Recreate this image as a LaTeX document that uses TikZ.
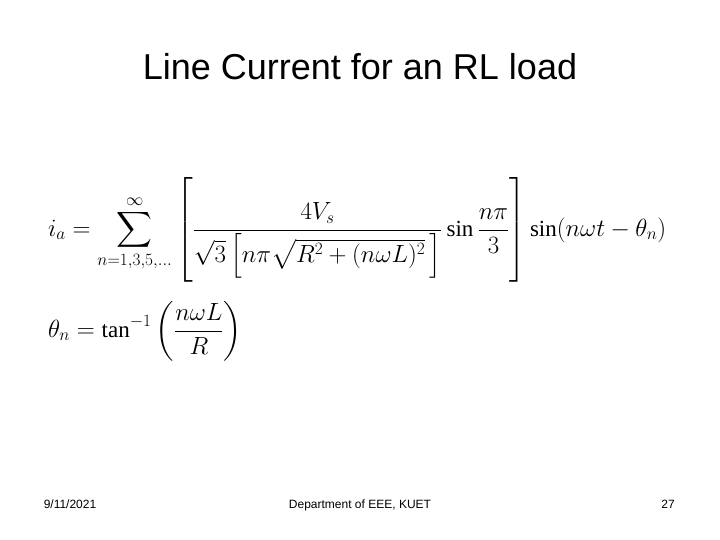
\documentclass[tikz,border=0pt]{standalone}
\usepackage{amsmath}
\usepackage{fontspec}
\setmainfont{Liberation Sans}
\setmathrm{Liberation Serif}
\begin{document}
\begin{tikzpicture}[x=1pt, y=-1pt,
    inner sep=0pt, outer sep=0pt,
    title/.style={anchor=base, font=\fontsize{36}{40}\selectfont},
    footer/.style={anchor=base, font=\fontsize{12}{14}\selectfont},
    formula/.style={anchor=west, font=\fontsize{23}{27}\selectfont},
]
    % Page
    \useasboundingbox (0,0) rectangle (720,540);

    % Title
    \node[title] (heading) at (360,80) {Line Current for an RL load};

    % Equations
    \node[formula] (current) at (48,230)
        {$\displaystyle i_a = \sum_{n=1,3,5,\ldots}^{\infty}\left[\frac{4V_s}{\sqrt{3}\left[n\pi\sqrt{R^2+(n\omega L)^2}\,\right]}\sin\frac{n\pi}{3}\right]\sin(n\omega t-\theta_n)$};
    \node[formula] (angle) at (48,331)
        {$\displaystyle \theta_n = \tan^{-1}\left(\frac{n\omega L}{R}\right)$};

    % Footer
    \node[footer] (date) at (70,508) {9/11/2021};
    \node[footer] (dept) at (360,508) {Department of EEE, KUET};
    \node[footer] (page) at (668,508) {27};
\end{tikzpicture}
\end{document}
